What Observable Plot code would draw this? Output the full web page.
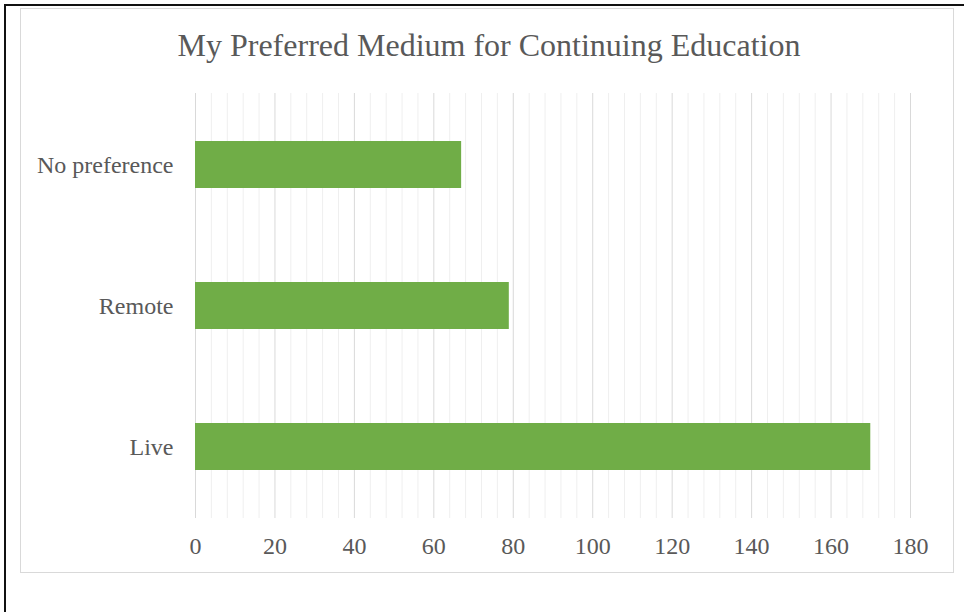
<!DOCTYPE html>
<html>
<head>
<meta charset="utf-8">
<script src="https://cdn.jsdelivr.net/npm/d3@7"></script>
<script src="https://cdn.jsdelivr.net/npm/@observablehq/plot@0.6"></script>
<style>
  html, body { margin: 0; padding: 0; background: #fff; }
  #page { position: relative; width: 964px; height: 612px; overflow: hidden; }
  #frameTop { position: absolute; left: 5px; top: 4px; width: 959px; height: 2px; background: #111; }
  #frameLeft { position: absolute; left: 4px; top: 4px; width: 2px; height: 608px; background: #111; }
  #chartBox { position: absolute; left: 20px; top: 8px; width: 934px; height: 565px; border: 1px solid #d9d9d9; box-sizing: border-box; }
  #title { position: absolute; left: 20px; width: 938px; top: 29px; text-align: center;
           font-family: 'Liberation Serif', 'Times New Roman', serif; font-size: 32px; line-height: 32px; color: #595959; }
  #plot { position: absolute; left: 0; top: 80px; }
</style>
</head>
<body>
<div id="page">
  <div id="frameTop"></div>
  <div id="frameLeft"></div>
  <div id="chartBox"></div>
  <div id="title">My Preferred Medium for Continuing Education</div>
  <div id="plot"></div>
</div>
<script>
const categories = ["No preference", "Remote", "Live"];
const values = [67, 79, 170];
const xTicks = [0, 20, 40, 60, 80, 100, 120, 140, 160, 180];
const minorStep = 4;

const data = categories.map((c, i) => ({category: c, value: values[i]}));
const minorTicks = d3.range(0, 180 + 0.001, minorStep).filter(v => !xTicks.includes(v));

const chart = Plot.plot({
  width: 964,
  height: 532,
  marginTop: 13,
  marginBottom: 94,
  marginLeft: 195,
  marginRight: 54,
  style: {fontFamily: "'Liberation Serif', 'Times New Roman', serif", fontSize: "24px", color: "#595959", background: "transparent"},
  x: {domain: [0, 180], ticks: xTicks, tickSize: 0, tickPadding: 18, label: null},
  y: {domain: categories, paddingInner: 0.67, paddingOuter: 0.335, tickSize: 0, tickPadding: 22, label: null},
  marks: [
    Plot.ruleX(minorTicks, {stroke: "#efefef", strokeWidth: 1}),
    Plot.ruleX(xTicks, {stroke: "#d9d9d9", strokeWidth: 1}),
    Plot.barX(data, {x: "value", y: "category", fill: "#70ad47"})
  ]
});
document.getElementById("plot").appendChild(chart);
</script>
</body>
</html>
